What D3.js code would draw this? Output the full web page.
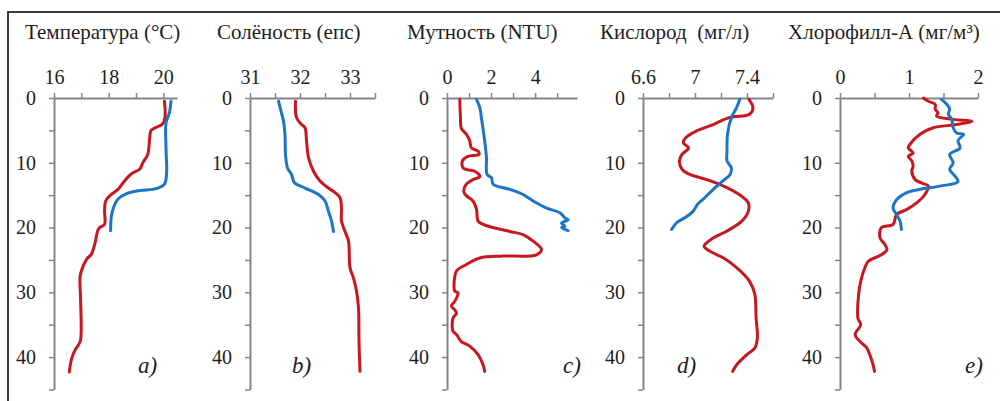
<!DOCTYPE html>
<html>
<head>
<meta charset="utf-8">
<script src="https://cdn.jsdelivr.net/npm/d3@7"></script>
<style>
  body { margin: 0; background: #fff; }
  svg { display: block; }
  text { font-family: "Liberation Serif", "Times New Roman", serif; fill: #1e1e1e; white-space: pre; }
</style>
</head>
<body>
<svg id="chart" width="1004" height="401"></svg>
<script>
// Depth axis (m), shared by all five profiles
const depthTicks = [0, 5, 10, 15, 20, 25, 30, 35, 40, 45];
const depthLabels = [0, 10, 20, 30, 40];

// Profiles as [value, depth] pairs; station 1 drawn red, station 2 blue
const temperature1 = [[20.04,0.5],[20.06,3],[19.97,4],[19.7,4.6],[19.55,5],[19.5,6.2],[19.43,8.7],[19.25,10],[19.13,11],[18.83,11.7],[18.58,12.8],[18.34,14.1],[18.04,15.1],[17.89,15.9],[17.85,17.4],[17.85,19.5],[17.67,20],[17.6,20.5],[17.49,22.6],[17.37,24.1],[17.19,24.9],[17.0,26.7],[16.95,27.7],[16.97,30.8],[16.97,37.4],[16.88,38.2],[16.76,39],[16.64,40.3],[16.56,42.3]];
const temperature2 = [[20.28,0.5],[20.22,2.3],[20.1,3.8],[20.1,8],[20.12,11.5],[20.04,13.3],[19.73,14],[19.13,14.3],[18.64,14.8],[18.34,15.6],[18.18,16.9],[18.1,18.2],[18.07,20.5]];

const salinity1 = [[31.91,0.5],[31.93,3],[32.03,4.1],[32.1,4.6],[32.13,6.6],[32.17,9.2],[32.27,11.3],[32.4,12.8],[32.57,13.9],[32.7,14.6],[32.8,15.4],[32.83,17],[32.83,19],[32.9,20.6],[32.97,22.1],[33.0,26.2],[33.07,27.8],[33.13,29.8],[33.17,32.4],[33.18,37.6],[33.2,42.2]];
const salinity2 = [[31.57,0.5],[31.62,2],[31.67,3.6],[31.7,5.6],[31.71,8.7],[31.75,10.8],[31.83,11.8],[31.89,13.1],[32.1,13.9],[32.37,14.9],[32.5,15.9],[32.57,17.5],[32.63,19],[32.67,20.6]];

const turbidity1 = [[0.58,0.2],[0.61,3],[0.65,4.7],[0.88,5.6],[1.03,6.6],[1.11,7.7],[1.41,8.2],[1.45,8.7],[0.95,9],[0.7,9.7],[0.73,10.8],[0.95,11.1],[1.26,11.3],[1.49,12.1],[1.18,12.6],[0.88,13.3],[0.76,14.4],[0.88,15.1],[1.18,15.9],[1.34,17.2],[1.41,19],[1.64,19.5],[2.09,20],[2.85,20.6],[3.45,21.1],[3.91,22.1],[4.29,23.4],[4.06,24.2],[2.55,24.4],[1.49,24.7],[0.88,25.7],[0.43,26.7],[0.32,28.8],[0.35,29.8],[0.5,30.1],[0.35,31.4],[0.2,32.1],[0.35,32.7],[0.43,33.2],[0.27,34],[0.27,36],[0.43,36.5],[0.65,37.6],[1.03,38.3],[1.41,39.6],[1.64,41.2],[1.71,42.2]];
const turbidity2 = [[1.34,0.2],[1.49,1.5],[1.56,3],[1.71,6.6],[1.79,9.2],[1.82,11.8],[2.02,12.3],[2.09,13.3],[2.85,14.1],[3.45,14.9],[3.91,15.9],[4.52,17],[5.12,17.7],[5.35,18.5],[5.5,18.8],[5.2,19.3],[5.35,19.8],[5.2,20],[5.5,20.5]];

const oxygen1 = [[7.415,0.2],[7.446,1.5],[7.42,2.5],[7.267,3],[7.14,4.1],[7.01,5.1],[6.93,6.1],[6.91,6.9],[6.95,7.7],[6.9,8.7],[6.88,9.7],[6.9,11],[6.96,11.8],[7.09,12.6],[7.22,13.6],[7.34,14.9],[7.41,16.2],[7.41,17.5],[7.36,19],[7.24,20.6],[7.14,21.6],[7.07,22.9],[7.11,23.6],[7.22,24.7],[7.32,26.2],[7.42,28.3],[7.46,30.3],[7.47,34],[7.48,37],[7.46,38.6],[7.4,39.6],[7.32,41.2],[7.29,42.2]];
const oxygen2 = [[7.344,0.2],[7.32,1.5],[7.28,3],[7.25,5.6],[7.246,8.2],[7.246,9.7],[7.28,10.8],[7.27,11.8],[7.215,12.8],[7.14,14.1],[7.075,15.4],[7.02,16.4],[6.985,17.5],[6.92,18.5],[6.857,19.3],[6.82,20.3]];

const chlorophyll1 = [[1.21,0],[1.28,0.5],[1.38,1],[1.38,1.7],[1.42,2.3],[1.4,2.8],[1.64,3.3],[1.91,3.6],[1.69,4.1],[1.35,4.6],[1.16,5.6],[1.01,7.2],[0.99,7.7],[1.06,8.5],[0.99,9],[1.04,9.7],[1.06,10.5],[1.04,11.3],[1.09,12.6],[1.18,13.1],[1.28,13.6],[1.23,14.9],[1.11,16.2],[0.97,17.2],[0.82,18],[0.77,19.5],[0.6,20],[0.58,21.6],[0.65,22.6],[0.68,23.4],[0.6,24.2],[0.41,25.2],[0.36,26.2],[0.3,28.3],[0.27,30.3],[0.26,34],[0.3,35],[0.22,36.5],[0.29,37.6],[0.39,38.6],[0.43,39.6],[0.48,41.2],[0.5,42.2]];
const chlorophyll2 = [[1.47,0.2],[1.55,1],[1.59,1.7],[1.57,2.5],[1.62,3.3],[1.64,4.6],[1.69,5.4],[1.79,5.6],[1.71,6.6],[1.74,7.7],[1.59,8.7],[1.64,10],[1.59,11],[1.67,12.1],[1.71,12.9],[1.45,13.6],[1.16,14.1],[0.97,14.6],[0.82,15.7],[0.77,17],[0.82,18],[0.87,19],[0.89,20.3]];

// Value-axis ticks and which of them carry a label
const temperatureTicks = [16, 17, 18, 19, 20], temperatureLabels = [16, 18, 20];
const salinityTicks = [31, 31.5, 32, 32.5, 33, 33.5], salinityLabels = [31, 32, 33];
const turbidityTicks = [0, 1, 2, 3, 4, 5], turbidityLabels = [0, 2, 4];
const oxygenTicks = [6.6, 6.8, 7, 7.2, 7.4, 7.6], oxygenLabels = [6.6, 7, 7.4];
const chlorophyllTicks = [0, 0.5, 1, 1.5, 2], chlorophyllLabels = [0, 1, 2];

const titles = ["Температура (°C)", "Солёность (епс)", "Мутность (NTU)", "Кислород  (мг/л)", "Хлорофилл-А (мг/м³)"];
const letters = ["a)", "b)", "c)", "d)", "e)"];

const panels = [
  { domain: [16, 20.5], range: [54, 177], ticks: temperatureTicks, labels: temperatureLabels, s1: temperature1, s2: temperature2, titleX: 25, letterX: 138 },
  { domain: [31, 33.5], range: [250, 375], ticks: salinityTicks, labels: salinityLabels, s1: salinity1, s2: salinity2, titleX: 217, letterX: 292 },
  { domain: [0, 5.9], range: [447, 577], ticks: turbidityTicks, labels: turbidityLabels, s1: turbidity1, s2: turbidity2, titleX: 407, letterX: 563 },
  { domain: [6.6, 7.6], range: [643, 773], ticks: oxygenTicks, labels: oxygenLabels, s1: oxygen1, s2: oxygen2, titleX: 600, letterX: 677 },
  { domain: [0, 2], range: [840, 978], ticks: chlorophyllTicks, labels: chlorophyllLabels, s1: chlorophyll1, s2: chlorophyll2, titleX: 788, letterX: 965 }
];

const RED = "#c8171e", BLUE = "#1b76c6", AXIS = "#858585";
const svg = d3.select("#chart");

// outer frame (top and left edges)
svg.append("path")
  .attr("d", "M8,401 V12 H1000")
  .attr("fill", "none").attr("stroke", "#3c3c3c").attr("stroke-width", 2);

const y = d3.scaleLinear().domain([0, 45]).range([98, 389.5]);

panels.forEach((p, i) => {
  const x = d3.scaleLinear().domain(p.domain).range(p.range);
  const g = svg.append("g");

  // depth axis
  const ya = g.append("g").attr("transform", `translate(${p.range[0]},0)`)
    .call(d3.axisLeft(y).tickValues(depthTicks)
      .tickFormat(d => depthLabels.includes(d) ? d : "")
      .tickSize(5).tickSizeOuter(0).tickPadding(13));
  // value axis along the surface
  const xa = g.append("g").attr("transform", `translate(0,${y(0)})`)
    .call(d3.axisTop(x).tickValues(p.ticks)
      .tickFormat(d => p.labels.includes(d) ? d3.format("")(d) : "")
      .tickSize(5).tickSizeOuter(0).tickPadding(9));

  [ya, xa].forEach(a => {
    a.select(".domain").attr("stroke", AXIS).attr("stroke-width", 2);
    a.selectAll(".tick line").attr("stroke", AXIS).attr("stroke-width", 1.5);
    a.selectAll(".tick text").attr("font-size", 20)
      .attr("font-family", "Liberation Serif, serif").attr("fill", "#1e1e1e");
  });

  const line = d3.line().x(d => x(d[0])).y(d => y(d[1])).curve(d3.curveCatmullRom.alpha(0.5));
  g.append("path").datum(p.s1).attr("d", line)
    .attr("fill", "none").attr("stroke", RED).attr("stroke-width", 3)
    .attr("stroke-linejoin", "round").attr("stroke-linecap", "round");
  g.append("path").datum(p.s2).attr("d", line)
    .attr("fill", "none").attr("stroke", BLUE).attr("stroke-width", 3)
    .attr("stroke-linejoin", "round").attr("stroke-linecap", "round");

  g.append("text").attr("x", p.titleX).attr("y", 39)
    .attr("font-size", 21).text(titles[i]);
  g.append("text").attr("x", p.letterX).attr("y", 373)
    .attr("font-size", 23).attr("font-style", "italic").text(letters[i]);
});
</script>
</body>
</html>
